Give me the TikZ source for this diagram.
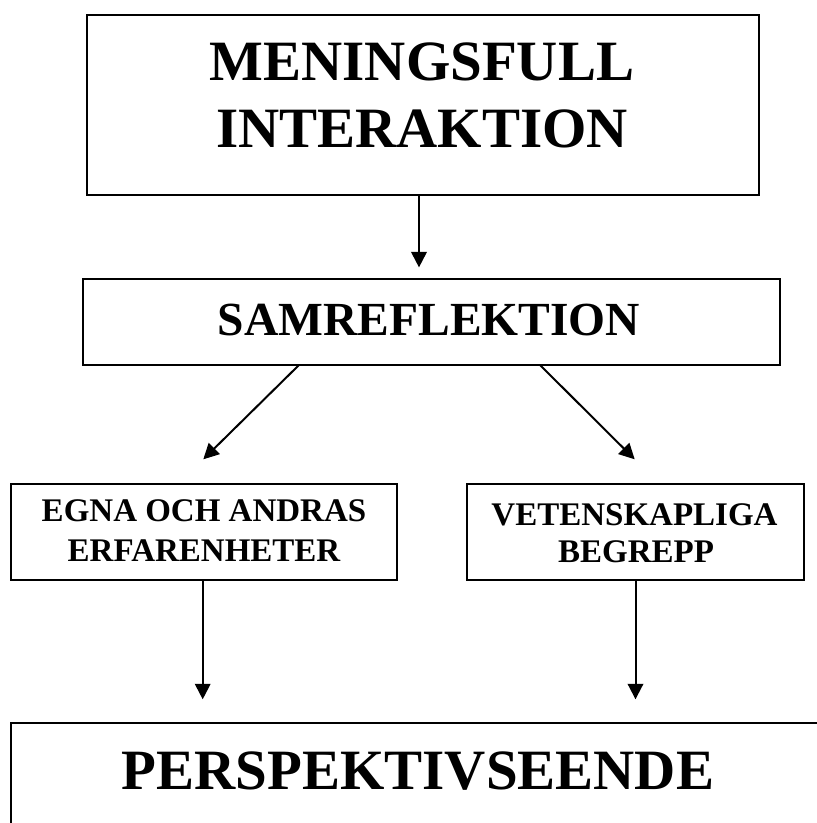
\documentclass[tikz,border=0pt]{standalone}
\usepackage{fontspec}
\setmainfont{Liberation Serif}
\usetikzlibrary{arrows.meta}
\tikzset{
  boxnode/.style={draw=black, line width=2pt, rectangle, inner sep=0pt, outer sep=0pt, fill=none},
  txt/.style={anchor=base, inner sep=0pt, outer sep=0pt, font=\bfseries},
  arr/.style={draw=black, line width=2pt, -{Triangle[length=15.5pt,width=15.5pt]}}
}
\begin{document}
\begin{tikzpicture}[x=1pt,y=-1pt]
\useasboundingbox (0,0) rectangle (817,823);
\clip (0,0) rectangle (817,823);
% boxes
\node[boxnode, minimum width=672.6pt, minimum height=180pt] (topbox) at (423,105) {};
\node[boxnode, minimum width=697.3pt, minimum height=86pt] (samrefl) at (431.35,322) {};
\node[boxnode, minimum width=386pt, minimum height=96pt] (egna) at (204,532) {};
\node[boxnode, minimum width=337pt, minimum height=96pt] (veten) at (635.5,532) {};
\node[boxnode, minimum width=829pt, minimum height=136.7pt] (bottom) at (425.5,791.65) {};
% texts
\node[txt, font=\bfseries\fontsize{57}{57}\selectfont] (t1) at (422,80) {MENINGSFULL};
\node[txt, font=\bfseries\fontsize{57}{57}\selectfont] (t2) at (422,147) {INTERAKTION};
\node[txt, font=\bfseries\fontsize{47.5}{47.5}\selectfont] (t3) at (429,335) {SAMREFLEKTION};
\node[txt, font=\bfseries\fontsize{33}{33}\selectfont] (t4) at (204,521.7) {EGNA OCH ANDRAS};
\node[txt, font=\bfseries\fontsize{33}{33}\selectfont] (t5) at (204,561.7) {ERFARENHETER};
\node[txt, font=\bfseries\fontsize{33}{33}\selectfont] (t6) at (634.5,525) {VETENSKAPLIGA};
\node[txt, font=\bfseries\fontsize{33}{33}\selectfont] (t7) at (636,562.7) {BEGREPP};
\node[txt, font=\bfseries\fontsize{57}{57}\selectfont] (t8) at (418,789.3) {PERSPEKTIVSEENDE};
% connectors
\draw[arr] ([xshift=-4pt]topbox.south) -- ([xshift=-12.35pt,yshift=11.6pt]samrefl.north);
\draw[arr] ([xshift=-132.35pt]samrefl.south) -- ([xshift=-0.7pt,yshift=24.7pt]egna.north);
\draw[arr] ([xshift=108.65pt]samrefl.south) -- ([xshift=-0.8pt,yshift=24.7pt]veten.north);
\draw[arr] ([xshift=-1.3pt]egna.south) -- ([xshift=-1.3pt,yshift=24pt]egna.south |- bottom.north);
\draw[arr] (veten.south) -- ([yshift=24pt]veten.south |- bottom.north);
\end{tikzpicture}
\end{document}
